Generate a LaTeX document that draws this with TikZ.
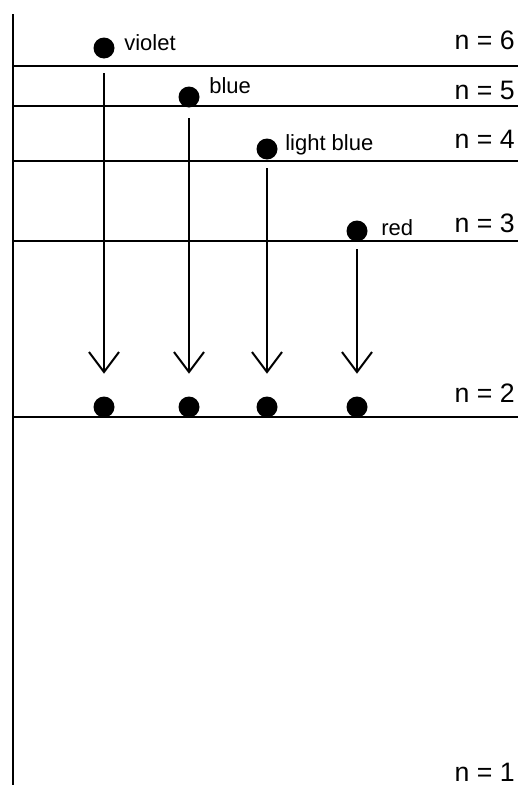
\documentclass[tikz,border=0pt]{standalone}
\usepackage{fontspec}
\setmainfont{Liberation Sans}
\usetikzlibrary{arrows.meta,positioning,calc}

\begin{document}
\begin{tikzpicture}[x=0.75pt, y=-0.75pt,
    level/.style={line width=1.5pt},
    dot/.style={circle, fill=black, inner sep=0pt, minimum size=15.75pt},
    colour/.style={anchor=base west, inner sep=0pt, font=\fontsize{16.5pt}{18pt}\selectfont},
    nlabel/.style={anchor=base east, inner sep=0pt, font=\fontsize{20pt}{22pt}\selectfont},
    trans/.style={line width=1.5pt, -{Straight Barb[length=15pt, width=22.5pt]}}]
  \useasboundingbox (0,0) rectangle (518,785);

  % Vertical axis
  \draw[line width=1.9pt] (13,14) -- (13,785);

  % Energy levels
  \foreach \y in {66,106,161,241,417} {
    \draw[level] (13,\y) -- (518,\y);
  }
  \foreach \n/\y in {6/49,5/99,4/148,3/232,2/402,1/781} {
    \node[nlabel] (n\n) at (515,\y) {n = \n};
  }

  % Electrons in the upper levels
  \node[dot] (up6) at (104,48) {};
  \node[colour] (lab6) at (124,50) {violet};
  \node[dot] (up5) at (189,97) {};
  \node[colour] (lab5) at (209,93) {blue};
  \node[dot] (up4) at (267,149) {};
  \node[colour] (lab4) at (285,150) {light blue};
  \node[dot] (up3) at (357,231) {};
  \node[colour] (lab3) at (381,235) {red};

  % Electrons arriving in n = 2
  \foreach \k/\x in {6/104,5/189,4/267,3/357} {
    \node[dot] (low\k) at (\x,407) {};
  }

  % Transitions down to n = 2
  \foreach \k/\gap in {6/10.9pt,5/7.9pt,4/6.4pt,3/5.6pt} {
    \draw[trans, shorten <=\gap, shorten >=16.9pt] (up\k.south) -- (low\k.north);
  }
\end{tikzpicture}
\end{document}
